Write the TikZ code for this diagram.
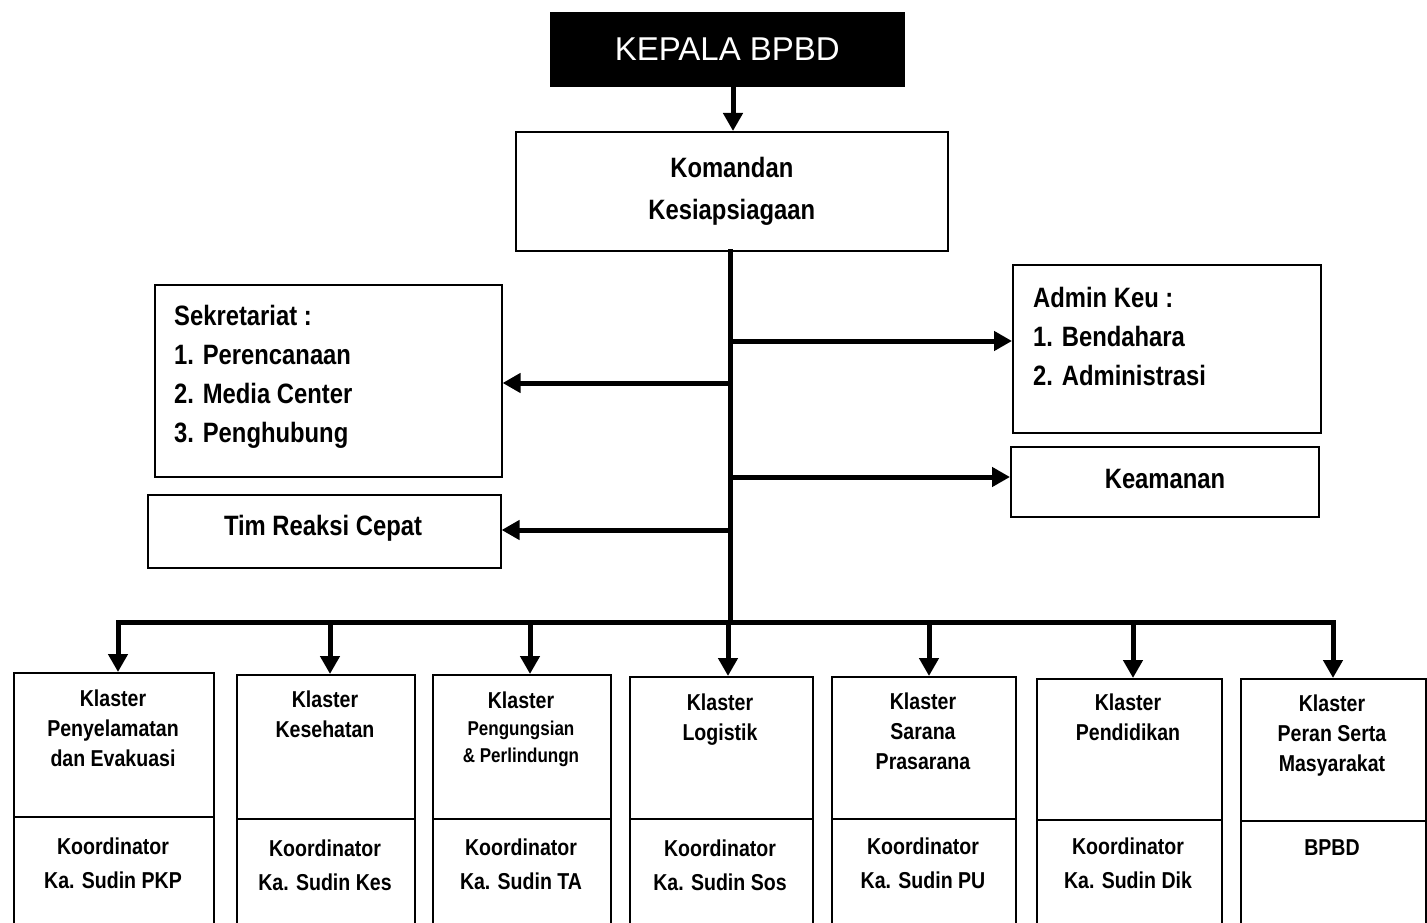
\documentclass[tikz,border=0pt]{standalone}
\usepackage{fontspec}
\newfontfamily\nar{Liberation Sans}[FakeStretch=0.85]
\newfontfamily\reg{Liberation Sans}
\usetikzlibrary{arrows.meta,calc}
\begin{document}
\begin{tikzpicture}[x=1pt,y=-1pt,
  box/.style={draw, line width=1.6pt, rectangle, inner sep=0pt, anchor=north west},
  conn/.style={line width=5pt, line cap=rect},
  arr/.style={line width=5pt, -{Triangle[length=18pt,width=19pt]}},
  midtxt/.style={font=\nar\bfseries\fontsize{28}{39}\selectfont, inner sep=0pt},
  bottxt/.style={font=\nar\bfseries\fontsize{23}{30}\selectfont, inner sep=0pt, align=center, anchor=north},
  kootxt/.style={font=\nar\bfseries\fontsize{23}{34}\selectfont, inner sep=0pt, align=center, anchor=north},
  smalltxt/.style={font=\nar\bfseries\fontsize{20}{27}\selectfont, inner sep=0pt, align=center, anchor=north}
]
\useasboundingbox (0,0) rectangle (1427,923);
\clip (0,0) rectangle (1427,923);
\fill[white] (0,0) rectangle (1427,923);

% top
\node[box, fill=black, minimum width=353pt, minimum height=73pt, text=white,
  font=\reg\fontsize{33}{33}\selectfont] (kep) at (550,12) {KEPALA BPBD};
\node[box, minimum width=432pt, minimum height=119pt, align=center,
  font=\nar\bfseries\fontsize{28}{42}\selectfont] (kom) at (515,131) {Komandan\\Kesiapsiagaan};
\draw[arr] (kep.south -| 733,0) -- (kom.north -| 733,0);

% side boxes
\node[box, minimum width=347pt, minimum height=192pt] (sek) at (154,284) {};
\node[midtxt, align=left, anchor=north west] (sektxt) at (174,305) {Sekretariat :\\1. Perencanaan\\2. Media Center\\3. Penghubung};
\node[box, minimum width=353pt, minimum height=73pt] (tim) at (147,494) {};
\node[midtxt] (timtxt) at (323,528) {Tim Reaksi Cepat};
\node[box, minimum width=308pt, minimum height=168pt] (adm) at (1012,264) {};
\node[midtxt, align=left, anchor=north west] (admtxt) at (1033,287) {Admin Keu :\\1. Bendahara\\2. Administrasi};
\node[box, minimum width=308pt, minimum height=70pt] (kea) at (1010,446) {};
\node[midtxt] (keatxt) at (1165,479) {Keamanan};

% trunk and side arrows
\coordinate (bus) at (730,622);
\draw[conn] (kom.south -| bus) -- (bus);
\coordinate (ja) at (730,341);
\coordinate (js) at (730,383);
\coordinate (jk) at (730,477);
\coordinate (jt) at (730,530);
\draw[arr] (ja) -- (ja -| adm.west);
\draw[arr] (js) -- (js -| sek.east);
\draw[arr] (jk) -- (jk -| kea.west);
\draw[arr] (jt) -- (jt -| tim.east);

% bottom clusters
\node[box, minimum width=200pt, minimum height=144pt] (c1) at (13,672) {};
\node[box, minimum width=200pt, minimum height=120pt] (d1) at (13,816) {};
\node[box, minimum width=178pt, minimum height=144pt] (c2) at (236,674) {};
\node[box, minimum width=178pt, minimum height=120pt] (d2) at (236,818) {};
\node[box, minimum width=178pt, minimum height=144pt] (c3) at (432,674) {};
\node[box, minimum width=178pt, minimum height=120pt] (d3) at (432,818) {};
\node[box, minimum width=183pt, minimum height=142pt] (c4) at (629,676) {};
\node[box, minimum width=183pt, minimum height=120pt] (d4) at (629,818) {};
\node[box, minimum width=184pt, minimum height=142pt] (c5) at (831,676) {};
\node[box, minimum width=184pt, minimum height=120pt] (d5) at (831,818) {};
\node[box, minimum width=185pt, minimum height=141pt] (c6) at (1036,678) {};
\node[box, minimum width=185pt, minimum height=120pt] (d6) at (1036,819) {};
\node[box, minimum width=185pt, minimum height=142pt] (c7) at (1240,678) {};
\node[box, minimum width=185pt, minimum height=120pt] (d7) at (1240,820) {};

\node[bottxt] (t1) at (113,690) {Klaster\\Penyelamatan\\dan Evakuasi};
\node[bottxt] (t2) at (325,691) {Klaster\\Kesehatan};
\node[bottxt] (t3a) at (521,692) {Klaster};
\node[smalltxt] (t3b) at (521,721) {Pengungsian\\\& Perlindungn};
\node[bottxt] (t4) at (720,694) {Klaster\\Logistik};
\node[bottxt] (t5) at (923,693) {Klaster\\Sarana\\Prasarana};
\node[bottxt] (t6) at (1128,694) {Klaster\\Pendidikan};
\node[bottxt] (t7) at (1332,695) {Klaster\\Peran Serta\\Masyarakat};

\node[kootxt] (k1) at (113,838) {Koordinator\\Ka. Sudin PKP};
\node[kootxt] (k2) at (325,840) {Koordinator\\Ka. Sudin Kes};
\node[kootxt] (k3) at (521,839) {Koordinator\\Ka. Sudin TA};
\node[kootxt] (k4) at (720,840) {Koordinator\\Ka. Sudin Sos};
\node[kootxt] (k5) at (923,838) {Koordinator\\Ka. Sudin PU};
\node[kootxt] (k6) at (1128,838) {Koordinator\\Ka. Sudin Dik};
\node[kootxt] (k7) at (1332,839) {BPBD};

% bus and down arrows
\coordinate (b1) at (118,622);
\coordinate (b2) at (330,622);
\coordinate (b3) at (530,622);
\coordinate (b4) at (728,622);
\coordinate (b5) at (929,622);
\coordinate (b6) at (1133,622);
\coordinate (b7) at (1333,622);
\draw[conn] (b1) -- (b7);
\draw[arr] (b1) -- (b1 |- c1.north);
\draw[arr] (b2) -- (b2 |- c2.north);
\draw[arr] (b3) -- (b3 |- c3.north);
\draw[arr] (b4) -- (b4 |- c4.north);
\draw[arr] (b5) -- (b5 |- c5.north);
\draw[arr] (b6) -- (b6 |- c6.north);
\draw[arr] (b7) -- (b7 |- c7.north);
\end{tikzpicture}
\end{document}
